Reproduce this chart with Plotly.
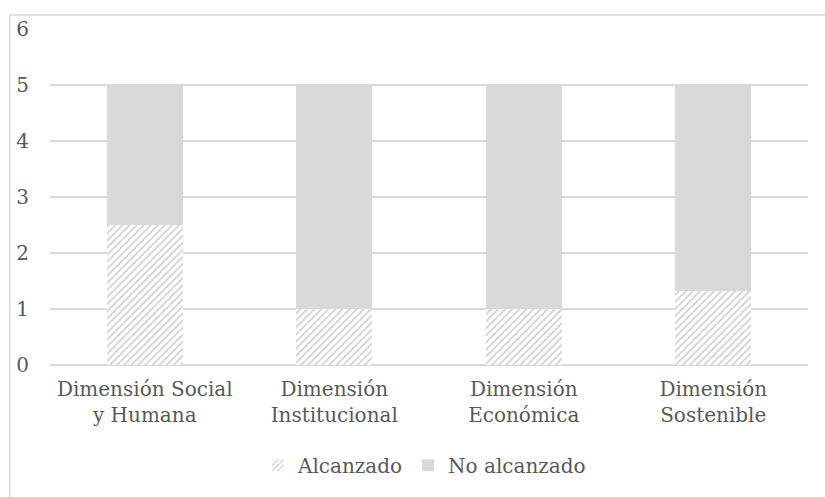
import plotly.graph_objects as go

categories = ["Dimensión Social<br>y Humana", "Dimensión<br>Institucional",
              "Dimensión<br>Económica", "Dimensión<br>Sostenible"]
alcanzado = [2.5, 1, 1, 1.33]
no_alcanzado = [2.5, 4, 4, 3.67]
y_ticks = [0, 1, 2, 3, 4, 5, 6]

FONT = "DejaVu Serif"
TEXT = "#595959"

fig = go.Figure()
fig.add_trace(go.Bar(
    name="Alcanzado", x=categories, y=alcanzado,
    marker=dict(color="white",
                pattern=dict(shape="/", fgcolor="#a6a6a6", bgcolor="white",
                             size=5, solidity=0.35),
                line=dict(width=0)),
))
fig.add_trace(go.Bar(
    name="No alcanzado", x=categories, y=no_alcanzado,
    marker=dict(color="#d9d9d9", line=dict(width=0)),
))

fig.update_layout(
    width=825, height=497,
    barmode="stack", bargap=0.6,
    plot_bgcolor="white", paper_bgcolor="white",
    margin=dict(l=50, r=17, t=29, b=130),
    font=dict(family=FONT, size=20, color=TEXT),
    showlegend=True,
    legend=dict(orientation="h", x=0.494, xanchor="center", y=-0.24, yanchor="top",
                font=dict(family=FONT, size=20, color=TEXT), itemwidth=30,
                traceorder="normal"),
    xaxis=dict(showgrid=False, showline=False, ticks="", tickfont=dict(size=20),
               ticklabelstandoff=10),
    yaxis=dict(range=[0, 6], tickvals=y_ticks, showgrid=True, gridcolor="#d9d9d9",
               gridwidth=1.5, zeroline=True, zerolinecolor="#d9d9d9", zerolinewidth=1.5,
               ticks="", ticklabelstandoff=20, tickfont=dict(size=20)),
    shapes=[dict(type="rect", xref="paper", yref="paper",
                 x0=-0.053, x1=1.1, y0=-0.5, y1=1.042,
                 line=dict(color="#d9d9d9", width=1.5), fillcolor="rgba(0,0,0,0)",
                 layer="below")],
)

fig.write_html("out.html")
